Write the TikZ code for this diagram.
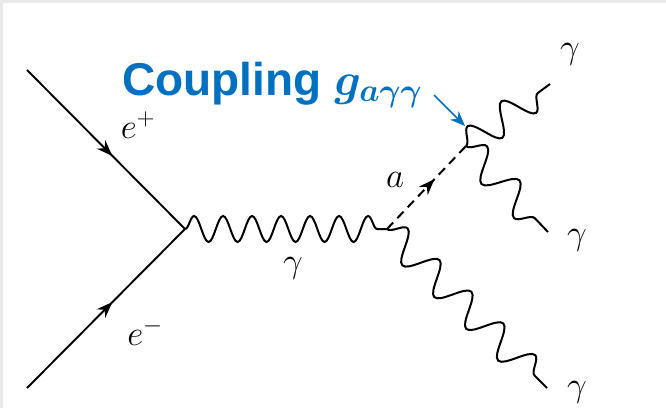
\RequirePackage{fix-cm}
\documentclass[tikz,border=0pt]{standalone}
\usepackage{amsmath,bm}
\usepackage{fontspec}
\setsansfont{Liberation Sans}
\usetikzlibrary{arrows.meta,decorations.pathmorphing,decorations.markings}
\definecolor{CouplingBlue}{HTML}{0070C0}
\definecolor{FrameGray}{HTML}{EAEAEA}
\tikzset{
  fermion line/.style={draw=black,line width=1.9pt,postaction={decorate},
    decoration={markings,mark=at position #1 with {\arrow{Stealth[length=16pt,width=12pt]}}}},
  fermion line/.default=0.54,
  photon line/.style={draw=black,line width=2pt,decorate,
    decoration={snake,segment length=#1,amplitude=13pt}},
  axion line/.style={draw=black,line width=2pt,dash pattern=on 9pt off 6pt,postaction={decorate},
    decoration={markings,mark=at position 0.6 with {\arrow[solid]{Stealth[length=16pt,width=12pt]}}}},
  coupling arrow/.style={-{Stealth[length=15pt,width=12pt]},draw=CouplingBlue,line width=1.7pt},
  particle label/.style={font=\fontsize{35}{40}\selectfont,inner sep=0pt}
}

\begin{document}
\begin{tikzpicture}[x=1pt,y=-1pt]
  \useasboundingbox (0,0) rectangle (666,408);
  \fill[FrameGray] (0,0) rectangle (666,408);
  \fill[white] (3,3) rectangle (666,408);
  \coordinate (ep) at (27,70);
  \coordinate (em) at (27,388);
  \coordinate (v1) at (185,229);
  \coordinate (v2) at (387,229);
  \coordinate (v3) at (466,146);
  \coordinate (g1) at (550,84);
  \coordinate (g2) at (548,232);
  \coordinate (g3) at (547,388);
  \draw[fermion line] (ep) -- (v1);
  \draw[fermion line] (em) -- (v1);
  \draw[photon line=29pt] (v1) -- (v2);
  \draw[axion line] (v2) -- (v3);
  \draw[photon line=42pt,decoration={amplitude=15pt}] (v3) -- (g1);
  \draw[photon line=47pt,decoration={amplitude=15pt}] (v3) -- (g2);
  \draw[photon line=45pt,decoration={amplitude=15pt}] (v2) -- (g3);
  \node[particle label] (lep) at (138,125) {$e^+$};
  \node[particle label] (lem) at (145,332) {$e^-$};
  \node[particle label] (lgm) at (293,268) {$\gamma$};
  \node[particle label] (la) at (395,180) {$a$};
  \node[particle label] (lg1) at (570,54) {$\gamma$};
  \node[particle label] (lg2) at (577,240) {$\gamma$};
  \node[particle label] (lg3) at (577,392) {$\gamma$};
  \node[anchor=base west,inner sep=0pt,text=CouplingBlue,font=\fontsize{46}{50}\selectfont] (cpl) at (122,95)
    {\sffamily\bfseries Coupling $\bm{g_{a\gamma\gamma}}$};
  \coordinate (hint) at (434,95);
  \coordinate (aim) at (465,126);
  \draw[coupling arrow] (hint) -- (aim);
\end{tikzpicture}
\end{document}
